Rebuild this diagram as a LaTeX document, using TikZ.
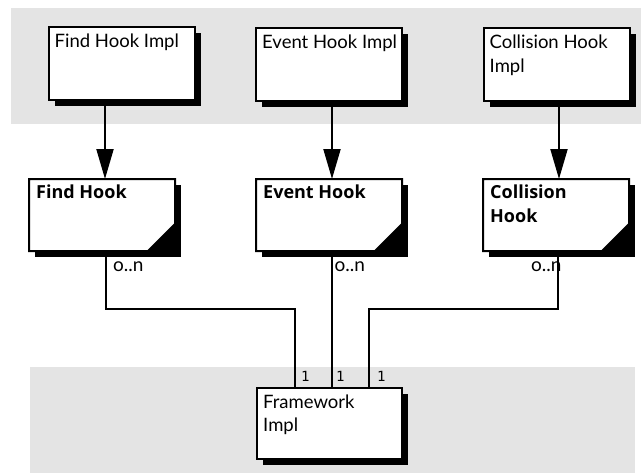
\documentclass[tikz,border=0pt]{standalone}
\usepackage{fontspec}
\setmainfont{Lato}
\newfontfamily\headfont{Open Sans}
\newfontfamily\monofont{DejaVu Sans Mono}
\usetikzlibrary{arrows.meta}
\definecolor{bandgray}{HTML}{E4E4E4}
\begin{document}
\begin{tikzpicture}[x=1pt,y=-1pt,
  band/.style={fill=bandgray},
  boxarea/.style={inner sep=0pt, outer sep=0pt, minimum width=146pt, minimum height=73pt},
  boxline/.style={draw=black, line width=2pt, fill=white, line join=miter},
  shade/.style={fill=black},
  impltxt/.style={inner sep=0pt, anchor=base west, align=left, font=\fontsize{18.5pt}{23.5pt}\selectfont},
  hooktxt/.style={inner sep=0pt, anchor=base west, align=left, font=\headfont\bfseries\fontsize{18pt}{24pt}\selectfont},
  multtxt/.style={inner sep=0pt, anchor=base west, font=\fontsize{19pt}{21pt}\selectfont},
  onetxt/.style={inner sep=0pt, anchor=base west, font=\monofont\fontsize{14pt}{15pt}\selectfont},
  arr/.style={line width=2pt, -{Triangle[length=30pt,width=17pt]}},
  conn/.style={line width=2pt}
]
\useasboundingbox (0,0) rectangle (641,474);
\fill[band] (11,8) rectangle (641,124);
\fill[band] (30,367) rectangle (635,473);

% box areas
\node[boxarea] (fhi) at (121.5,63.5) {};
\node[boxarea] (ehi) at (329,64.5) {};
\node[boxarea] (chi) at (556.5,64.5) {};
\node[boxarea, minimum height=72pt] (fh) at (102,215) {};
\node[boxarea, minimum height=72pt] (eh) at (329,215) {};
\node[boxarea, minimum height=72pt] (ch) at (556,215) {};
\node[boxarea, minimum width=145pt, minimum height=71pt] (fw) at (329.5,423.5) {};

% shadows
\foreach \b in {fhi,ehi,chi,fh,eh,ch,fw}
  \fill[shade] ([shift={(6pt,-6pt)}]\b.north west) rectangle ([shift={(6pt,-6pt)}]\b.south east);

% plain boxes
\foreach \b in {fhi,ehi,chi,fw}
  \draw[boxline] (\b.north west) rectangle (\b.south east);

% folded-corner boxes
\foreach \b in {fh,eh,ch}
  \draw[boxline] (\b.north west) -- (\b.north east) -- ([yshift=27pt]\b.south east)
    -- ([xshift=-27pt]\b.south east) -- (\b.south west) -- cycle;

% texts (base anchor = baseline of the last line)
\node[impltxt] (fhit) at ([shift={(6pt,-20.5pt)}]fhi.north west) {Find Hook Impl};
\node[impltxt] (ehit) at ([shift={(6pt,-20.5pt)}]ehi.north west) {Event Hook Impl};
\node[impltxt] (chit) at ([shift={(6pt,-44pt)}]chi.north west) {Collision Hook\\Impl};
\node[hooktxt] (fht) at ([shift={(7pt,-19.5pt)}]fh.north west) {Find Hook};
\node[hooktxt] (eht) at ([shift={(7pt,-19.5pt)}]eh.north west) {Event Hook};
\node[hooktxt] (cht) at ([shift={(7pt,-43.5pt)}]ch.north west) {Collision\\Hook};
\node[impltxt] (fwt) at ([shift={(6pt,-43.5pt)}]fw.north west) {Framework\\Impl};

% generalisation arrows
\coordinate (fhn) at ([xshift=3pt]fh.north);
\coordinate (ehn) at ([xshift=3pt]eh.north);
\coordinate (chn) at ([xshift=3pt]ch.north);
\draw[arr] (fhn |- fhi.south) -- (fhn);
\draw[arr] (ehn |- ehi.south) -- (ehn);
\draw[arr] (chn |- chi.south) -- (chn);

% associations
\coordinate (bus) at (0,309);
\coordinate (fhs) at ([xshift=4pt]fh.south);
\coordinate (ehs) at ([xshift=3pt]eh.south);
\coordinate (chs) at ([xshift=2pt]ch.south);
\coordinate (fw1) at ([xshift=-34.5pt]fw.north);
\coordinate (fw2) at ([xshift=2.5pt]fw.north);
\coordinate (fw3) at ([xshift=39.5pt]fw.north);
\draw[conn] (fhs) -- (fhs |- bus) -| (fw1);
\draw[conn] (ehs) -- (fw2);
\draw[conn] (chs) -- (chs |- bus) -| (fw3);

% multiplicities
\node[multtxt] (m1) at (113,271.5) {o..n};
\node[multtxt] (m2) at (334.5,271.5) {o..n};
\node[multtxt] (m3) at (531,271.5) {o..n};
\node[onetxt] (o1) at (301,381) {1};
\node[onetxt] (o2) at (336,381) {1};
\node[onetxt] (o3) at (377,381) {1};
\end{tikzpicture}
\end{document}
